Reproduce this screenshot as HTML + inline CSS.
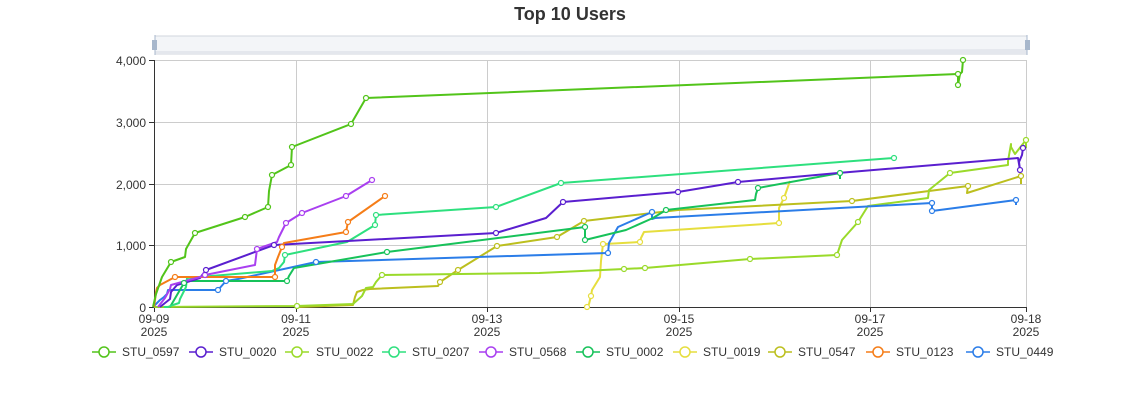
<!DOCTYPE html>
<html><head><meta charset="utf-8"><style>
body{margin:0;background:#fff;}
svg{display:block;font-family:"Liberation Sans",sans-serif;}
</style></head><body>
<svg width="1140" height="400" viewBox="0 0 1140 400">
<text x="570" y="20" text-anchor="middle" font-size="18" font-weight="bold" fill="#333">Top 10 Users</text>
<!-- dataZoom -->
<rect x="155" y="36" width="872" height="18" fill="#f3f5f8" stroke="#d2d6de"/>
<path d="M155 51 L500 51 L1027 49 L1027 54 L155 54Z" fill="#e4e7ed"/>
<rect x="152" y="40" width="5" height="10" fill="#a7b7cc"/>
<rect x="1025" y="40" width="5" height="10" fill="#a7b7cc"/>
<line x1="155" y1="35" x2="155" y2="55" stroke="#a7b7cc"/>
<line x1="1027" y1="35" x2="1027" y2="55" stroke="#a7b7cc"/>
<!-- grid -->
<g stroke="#ccc" stroke-width="1">
<line x1="154" y1="60.5" x2="1027" y2="60.5"/>
<line x1="154" y1="122.5" x2="1027" y2="122.5"/>
<line x1="154" y1="184.5" x2="1027" y2="184.5"/>
<line x1="154" y1="245.5" x2="1027" y2="245.5"/>
<line x1="296.5" y1="60" x2="296.5" y2="307"/>
<line x1="487.5" y1="60" x2="487.5" y2="307"/>
<line x1="679.5" y1="60" x2="679.5" y2="307"/>
<line x1="870.5" y1="60" x2="870.5" y2="307"/>
<line x1="1026.5" y1="60" x2="1026.5" y2="307"/>
</g>
<g stroke="#333" stroke-width="1">
<line x1="154.5" y1="60" x2="154.5" y2="307"/>
<line x1="154" y1="307.5" x2="1027" y2="307.5"/>
<line x1="149" y1="60.5" x2="154" y2="60.5"/>
<line x1="149" y1="122.5" x2="154" y2="122.5"/>
<line x1="149" y1="184.5" x2="154" y2="184.5"/>
<line x1="149" y1="245.5" x2="154" y2="245.5"/>
<line x1="149" y1="307.5" x2="154" y2="307.5"/>
<line x1="154.5" y1="307" x2="154.5" y2="312"/>
<line x1="296.5" y1="307" x2="296.5" y2="312"/>
<line x1="487.5" y1="307" x2="487.5" y2="312"/>
<line x1="679.5" y1="307" x2="679.5" y2="312"/>
<line x1="870.5" y1="307" x2="870.5" y2="312"/>
<line x1="1026.5" y1="307" x2="1026.5" y2="312"/>
</g>
<g font-size="12" fill="#333" text-anchor="end">
<text x="146" y="65">4,000</text><text x="146" y="127">3,000</text><text x="146" y="189">2,000</text><text x="146" y="250">1,000</text><text x="146" y="312">0</text>
</g>
<g font-size="12" fill="#333" text-anchor="middle">
<text x="154" y="323">09-09</text><text x="154" y="336">2025</text>
<text x="296" y="323">09-11</text><text x="296" y="336">2025</text>
<text x="487" y="323">09-13</text><text x="487" y="336">2025</text>
<text x="679" y="323">09-15</text><text x="679" y="336">2025</text>
<text x="870" y="323">09-17</text><text x="870" y="336">2025</text>
<text x="1026" y="323">09-18</text><text x="1026" y="336">2025</text>
</g>
<g fill="none" stroke-width="2" stroke-linejoin="round">
<polyline stroke="#e6de3e" points="587,307 589,304 591,296 592,290 600,277 601,261 603,244 605,244 640,242 641,238 644,232 779,223 779,208 784,198 790,181"/>
<polyline stroke="#bcbf1e" points="296,307 353,305 355,297 357,292 363,290 370,289 438,286 440,282 458,270 497,246 557,237 584,221 678,210 852,201 929,191 968,186 967,193 1021,176 1021,184"/>
<polyline stroke="#9ada2a" points="154,307 297,306 353,304 362,296 366,288 373,287 376,282 382,275 539,273 624,269 645,268 750,259 837,255 842,240 858,222 868,206 928,198 929,190 950,173 1008,165 1008,161 1011,144 1011,147 1015,154 1026,140 1026,148"/>
<polyline stroke="#2b7de8" points="153,307 155,305 160,300 164,297 167,294 168,290 218,290 226,281 238,279 316,262 608,253 609,243 618,227 652,212 652,219 655,218 932,203 932,211 1016,200 1016,205"/>
<polyline stroke="#17c25a" points="170,307 184,283 190,281 287,281 289,276 294,268 387,252 585,227 585,240 626,230 653,218 666,210 755,200 756,194 758,188 840,173 840,179"/>
<polyline stroke="#2ee07e" points="164,307 168,307 173,305 179,303 180,299 183,293 186,287 187,278 272,271 279,268 284,262 285,255 347,242 375,225 376,215 496,207 561,183 894,158"/>
<polyline stroke="#5a1fcf" points="160,307 170,299 171,292 177,285 200,278 206,270 274,245 496,233 546,218 563,202 678,192 738,182 838,173 1018,158 1020,170 1019,162 1022,155 1023,148 1024,145"/>
<polyline stroke="#f57d18" points="154,307 155,300 156,292 157,288 160,285 175,277 275,277 275,265 278,257 282,247 284,243 346,232 348,222 385,196"/>
<polyline stroke="#a93ff0" points="158,307 165,298 170,289 171,285 200,277 205,275 255,265 257,249 277,242 279,237 286,223 302,213 346,196 372,180"/>
<polyline stroke="#52c41a" points="153,307 156,294 162,277 171,262 185,257 186,249 195,233 245,217 268,207 269,191 272,175 291,165 292,147 351,124 366,98 958,74 958,85 960,74 962,72 963,60"/>
</g>
<g fill="#fff" stroke-width="1.2">
<g stroke="#52c41a"><circle cx="171" cy="262" r="2.5"/><circle cx="195" cy="233" r="2.5"/><circle cx="245" cy="217" r="2.5"/><circle cx="268" cy="207" r="2.5"/><circle cx="272" cy="175" r="2.5"/><circle cx="291" cy="165" r="2.5"/><circle cx="292" cy="147" r="2.5"/><circle cx="351" cy="124" r="2.5"/><circle cx="366" cy="98" r="2.5"/><circle cx="958" cy="74" r="2.5"/><circle cx="958" cy="85" r="2.5"/><circle cx="963" cy="60" r="2.5"/></g>
<g stroke="#a93ff0"><circle cx="205" cy="275" r="2.5"/><circle cx="257" cy="249" r="2.5"/><circle cx="286" cy="223" r="2.5"/><circle cx="302" cy="213" r="2.5"/><circle cx="346" cy="196" r="2.5"/><circle cx="372" cy="180" r="2.5"/></g>
<g stroke="#f57d18"><circle cx="175" cy="277" r="2.5"/><circle cx="275" cy="277" r="2.5"/><circle cx="282" cy="247" r="2.5"/><circle cx="346" cy="232" r="2.5"/><circle cx="348" cy="222" r="2.5"/><circle cx="385" cy="196" r="2.5"/></g>
<g stroke="#2ee07e"><circle cx="285" cy="255" r="2.5"/><circle cx="375" cy="225" r="2.5"/><circle cx="376" cy="215" r="2.5"/><circle cx="496" cy="207" r="2.5"/><circle cx="561" cy="183" r="2.5"/><circle cx="894" cy="158" r="2.5"/></g>
<g stroke="#5a1fcf"><circle cx="206" cy="270" r="2.5"/><circle cx="274" cy="245" r="2.5"/><circle cx="496" cy="233" r="2.5"/><circle cx="563" cy="202" r="2.5"/><circle cx="678" cy="192" r="2.5"/><circle cx="738" cy="182" r="2.5"/><circle cx="1020" cy="170" r="2.5"/><circle cx="1023" cy="148" r="2.5"/></g>
<g stroke="#17c25a"><circle cx="184" cy="283" r="2.5"/><circle cx="287" cy="281" r="2.5"/><circle cx="387" cy="252" r="2.5"/><circle cx="585" cy="227" r="2.5"/><circle cx="585" cy="240" r="2.5"/><circle cx="666" cy="210" r="2.5"/><circle cx="758" cy="188" r="2.5"/><circle cx="840" cy="173" r="2.5"/></g>
<g stroke="#2b7de8"><circle cx="218" cy="290" r="2.5"/><circle cx="226" cy="281" r="2.5"/><circle cx="316" cy="262" r="2.5"/><circle cx="608" cy="253" r="2.5"/><circle cx="652" cy="212" r="2.5"/><circle cx="932" cy="203" r="2.5"/><circle cx="932" cy="211" r="2.5"/><circle cx="1016" cy="200" r="2.5"/></g>
<g stroke="#9ada2a"><circle cx="297" cy="306" r="2.5"/><circle cx="382" cy="275" r="2.5"/><circle cx="624" cy="269" r="2.5"/><circle cx="645" cy="268" r="2.5"/><circle cx="750" cy="259" r="2.5"/><circle cx="837" cy="255" r="2.5"/><circle cx="858" cy="222" r="2.5"/><circle cx="950" cy="173" r="2.5"/><circle cx="1026" cy="140" r="2.5"/></g>
<g stroke="#bcbf1e"><circle cx="440" cy="282" r="2.5"/><circle cx="458" cy="270" r="2.5"/><circle cx="497" cy="246" r="2.5"/><circle cx="557" cy="237" r="2.5"/><circle cx="584" cy="221" r="2.5"/><circle cx="852" cy="201" r="2.5"/><circle cx="968" cy="186" r="2.5"/><circle cx="1021" cy="176" r="2.5"/></g>
<g stroke="#e6de3e"><circle cx="587" cy="307" r="2.5"/><circle cx="591" cy="296" r="2.5"/><circle cx="603" cy="244" r="2.5"/><circle cx="640" cy="242" r="2.5"/><circle cx="779" cy="223" r="2.5"/><circle cx="784" cy="198" r="2.5"/></g>
</g>
<!-- legend -->
<g font-size="12" fill="#333" stroke-width="1.5">
<g stroke="#52c41a"><line x1="92" y1="352" x2="116" y2="352"/><circle cx="104" cy="352" r="5" fill="#fff"/></g><text x="122" y="356" stroke="none">STU_0597</text>
<g stroke="#5a1fcf"><line x1="189" y1="352" x2="213" y2="352"/><circle cx="201" cy="352" r="5" fill="#fff"/></g><text x="219" y="356" stroke="none">STU_0020</text>
<g stroke="#9ada2a"><line x1="285" y1="352" x2="309" y2="352"/><circle cx="297" cy="352" r="5" fill="#fff"/></g><text x="316" y="356" stroke="none">STU_0022</text>
<g stroke="#2ee07e"><line x1="382" y1="352" x2="406" y2="352"/><circle cx="394" cy="352" r="5" fill="#fff"/></g><text x="412" y="356" stroke="none">STU_0207</text>
<g stroke="#a93ff0"><line x1="479" y1="352" x2="503" y2="352"/><circle cx="491" cy="352" r="5" fill="#fff"/></g><text x="509" y="356" stroke="none">STU_0568</text>
<g stroke="#17c25a"><line x1="576" y1="352" x2="600" y2="352"/><circle cx="588" cy="352" r="5" fill="#fff"/></g><text x="606" y="356" stroke="none">STU_0002</text>
<g stroke="#e6de3e"><line x1="673" y1="352" x2="697" y2="352"/><circle cx="685" cy="352" r="5" fill="#fff"/></g><text x="703" y="356" stroke="none">STU_0019</text>
<g stroke="#bcbf1e"><line x1="768" y1="352" x2="792" y2="352"/><circle cx="780" cy="352" r="5" fill="#fff"/></g><text x="798" y="356" stroke="none">STU_0547</text>
<g stroke="#f57d18"><line x1="866" y1="352" x2="890" y2="352"/><circle cx="878" cy="352" r="5" fill="#fff"/></g><text x="896" y="356" stroke="none">STU_0123</text>
<g stroke="#2b7de8"><line x1="966" y1="352" x2="990" y2="352"/><circle cx="978" cy="352" r="5" fill="#fff"/></g><text x="996" y="356" stroke="none">STU_0449</text>
</g>
</svg>
</body></html>
